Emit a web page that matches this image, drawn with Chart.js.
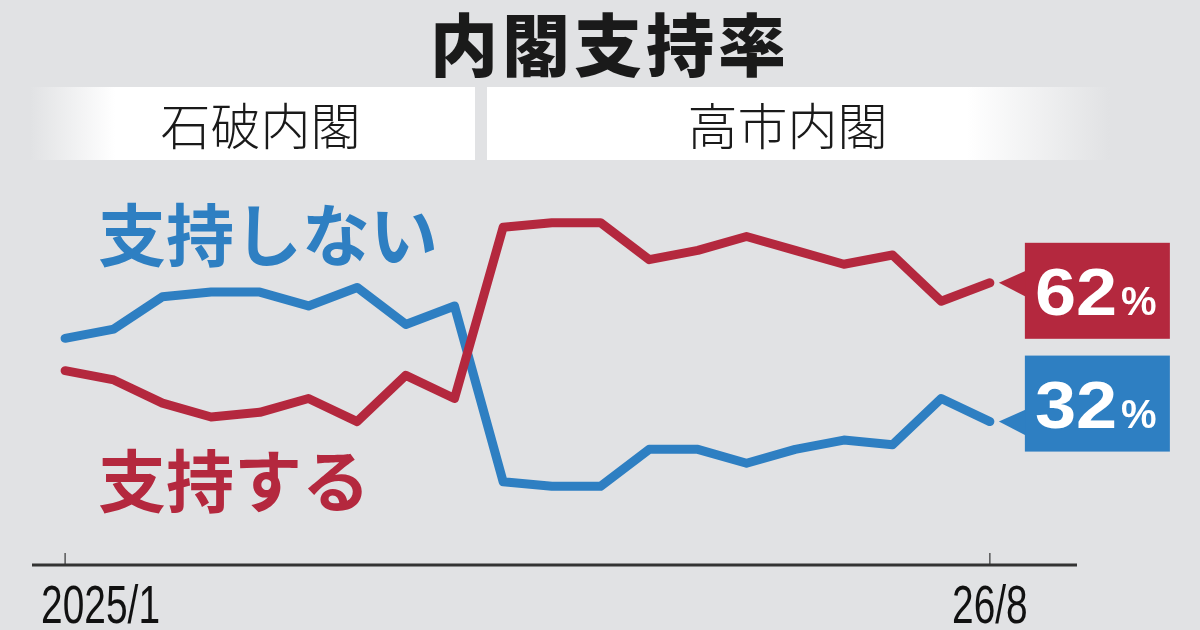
<!DOCTYPE html>
<html lang="ja">
<head>
  <meta charset="UTF-8">
  <title>内閣支持率</title>
  <style>
    body { margin: 0; background: #e1e2e4; }
    #wrap { position: relative; width: 1200px; height: 630px; overflow: hidden; background: #e1e2e4;
      font-family: "Noto Sans CJK JP", "Noto Sans", sans-serif; }
    #myChart { position: absolute; left: 0; top: 0; }
    .title { position: absolute; left: 0; width: 1220px; top: 0px; text-align: center;
      font-size: 68px; font-weight: 900; color: #1a1a1a; line-height: 84px; letter-spacing: 4px; }
    .cab { position: absolute; top: 87px; height: 73px; line-height: 73px; text-align: center;
      font-size: 50px; font-weight: 300; color: #1a1a1a; box-sizing: border-box; }
    #ishiba { left: 30px; width: 445px; padding-left: 16px;
      background: linear-gradient(to right, #e1e2e4 0px, #ffffff 85px); }
    #takaichi { left: 487px; width: 623px; padding-right: 22px;
      background: linear-gradient(to right, #ffffff 480px, #e1e2e4 623px); }
    .slabel { position: absolute; font-size: 68px; font-weight: 700; line-height: 76px; }
  </style>
  <script src="https://cdn.jsdelivr.net/npm/chart.js@4"></script>
</head>
<body>
<div id="wrap">
  <canvas id="myChart" width="1200" height="630"></canvas>
  <div class="title">内閣支持率</div>
  <div class="cab" id="ishiba">石破内閣</div>
  <div class="cab" id="takaichi">高市内閣</div>
  <div class="slabel" style="left:98px; top:194px; color:#2e7fc2;">支持しない</div>
  <div class="slabel" style="left:98px; top:440px; color:#b4283e;">支持する</div>
</div>

<script>
// monthly, 2025/1 .. 2026/8
var months = ['2025/1','2025/2','2025/3','2025/4','2025/5','2025/6','2025/7','2025/8','2025/9','2025/10',
              '2025/11','2025/12','2026/1','2026/2','2026/3','2026/4','2026/5','2026/6','2026/7','2026/8'];
var support    = [43, 41, 36, 33, 34, 37, 32, 42, 37, 74, 75, 75, 67, 69, 72, 69, 66, 68, 58, 62];
var notSupport = [50, 52, 59, 60, 60, 57, 61, 53, 57, 19, 18, 18, 26, 26, 23, 26, 28, 27, 37, 32];

var tickIdx = [0, 19];
var tickLabels = ['2025/1', '26/8'];

var red = '#b4283e', blue = '#2e7fc2';

function pts(arr){
  var out = [];
  for (var i = 0; i < arr.length; i++) out.push({x: i, y: arr[i]});
  return out;
}

// axis line, upward ticks, tick labels and the end-value boxes
var extras = {
  id: 'extras',
  afterDatasetsDraw: function(chart){
    var c = chart.ctx, xs = chart.scales.x, ys = chart.scales.y, a = chart.chartArea;
    c.save();
    c.strokeStyle = '#333';
    c.lineWidth = 3;
    c.beginPath(); c.moveTo(a.left, a.bottom); c.lineTo(a.right, a.bottom); c.stroke();

    c.lineWidth = 1.2;
    c.fillStyle = '#111';
    c.textBaseline = 'top';
    var sx = 0.72; // condensed face
    for (var i = 0; i < tickIdx.length; i++) {
      var px = xs.getPixelForValue(tickIdx[i]);
      c.beginPath(); c.moveTo(px, a.bottom - 12); c.lineTo(px, a.bottom); c.stroke();
      c.save();
      c.scale(sx, 1);
      c.font = '54px "Liberation Sans", Arial, sans-serif';
      if (i == 0) { c.textAlign = 'left'; c.fillText(tickLabels[i], (px - 24) / sx, a.bottom + 16); }
      else { c.textAlign = 'center'; c.fillText(tickLabels[i], px / sx, a.bottom + 16); }
      c.restore();
    }

    // end labels
    var last = months.length - 1;
    drawTag(c, xs.getPixelForValue(last), ys.getPixelForValue(support[last]), support[last], red, 8);
    drawTag(c, xs.getPixelForValue(last), ys.getPixelForValue(notSupport[last]), notSupport[last], blue, -18);
    c.restore();
  }
};

function drawTag(c, px, py, val, col, shift){
  var bx = px + 35, bw = 145, bh = 96, by = py + shift - bh / 2;
  c.fillStyle = col;
  c.fillRect(bx, by, bw, bh);
  c.beginPath();
  c.moveTo(px + 9, py);
  c.lineTo(bx + 1, py - 12);
  c.lineTo(bx + 1, py + 14);
  c.closePath();
  c.fill();
  c.fillStyle = '#fff';
  c.textBaseline = 'alphabetic';
  c.textAlign = 'left';
  c.font = 'bold 66px "Liberation Sans", Arial, sans-serif';
  var t = String(val);
  c.save();
  c.translate(bx + 10, by + bh / 2 + 24);
  c.scale(1.12, 1);
  c.fillText(t, 0, 0);
  c.restore();
  var w = c.measureText(t).width * 1.12;
  c.font = 'bold 40px "Liberation Sans", Arial, sans-serif';
  c.fillText('%', bx + 14 + w, by + bh / 2 + 24);
}

var ctx = document.getElementById('myChart').getContext('2d');
var chart = new Chart(ctx, {
  type: 'line',
  data: {
    datasets: [{
      label: '支持する',
      data: pts(support),
      borderColor: red,
      borderWidth: 9,
      pointRadius: 0,
      borderJoinStyle: 'round',
      borderCapStyle: 'round',
      tension: 0
    }, {
      label: '支持しない',
      data: pts(notSupport),
      borderColor: blue,
      borderWidth: 9,
      pointRadius: 0,
      borderJoinStyle: 'round',
      borderCapStyle: 'round',
      tension: 0
    }]
  },
  options: {
    responsive: false,
    animation: false,
    clip: false,
    layout: { padding: { left: 32, right: 123, top: 107, bottom: 65 } },
    plugins: { legend: { display: false }, tooltip: { enabled: false } },
    scales: {
      x: { type: 'linear', display: false, min: -0.68, max: 20.79 },
      y: { display: false, min: 1, max: 100 }
    }
  },
  plugins: [extras]
});
</script>
</body>
</html>
